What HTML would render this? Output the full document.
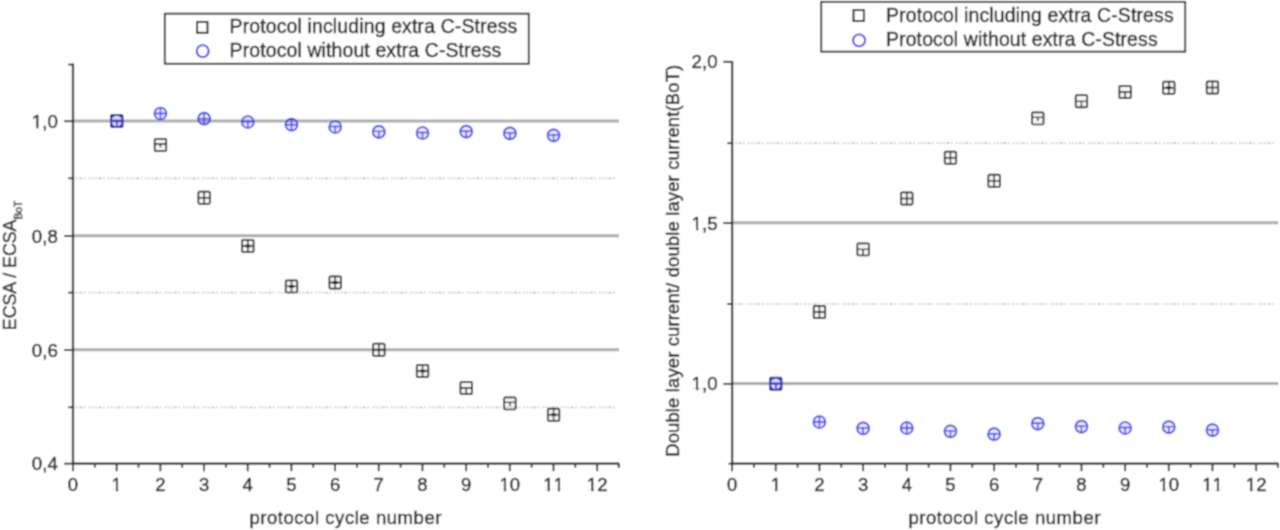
<!DOCTYPE html>
<html><head><meta charset="utf-8"><title>chart</title>
<style>
html,body{margin:0;padding:0;background:#fff;}
body{width:1280px;height:530px;overflow:hidden;font-family:"Liberation Sans", sans-serif;}
svg{display:block;font-family:"Liberation Sans", sans-serif;}
text{stroke:#303030;stroke-width:0.5px;}
</style></head><body>
<svg width="1280" height="530" viewBox="0 0 1280 530">
<defs><filter id="soft" x="0" y="0" width="1280" height="530" filterUnits="userSpaceOnUse"><feConvolveMatrix order="3" kernelMatrix="1 2 1 2 4 2 1 2 1" divisor="16" edgeMode="duplicate" preserveAlpha="false"/></filter></defs>
<rect width="1280" height="530" fill="#fff"/>
<g filter="url(#soft)">
<rect x="-5" y="-5" width="1290" height="540" fill="#fff"/>
<line x1="73.0" y1="178.3" x2="618.0" y2="178.3" stroke="#c4c4c4" stroke-width="1.7" stroke-dasharray="1.5 1.6 1.5 1.6 3.2 1.6 1.5 3.3 1.5 1.6"/>
<line x1="73.0" y1="292.6" x2="618.0" y2="292.6" stroke="#c4c4c4" stroke-width="1.7" stroke-dasharray="1.5 1.6 1.5 1.6 3.2 1.6 1.5 3.3 1.5 1.6"/>
<line x1="73.0" y1="407.3" x2="618.0" y2="407.3" stroke="#c4c4c4" stroke-width="1.7" stroke-dasharray="1.5 1.6 1.5 1.6 3.2 1.6 1.5 3.3 1.5 1.6"/>
<line x1="73.0" y1="120.9" x2="619.0" y2="120.9" stroke="#adadad" stroke-width="3.0"/>
<line x1="73.0" y1="235.7" x2="619.0" y2="235.7" stroke="#adadad" stroke-width="3.0"/>
<line x1="73.0" y1="349.7" x2="619.0" y2="349.7" stroke="#adadad" stroke-width="3.0"/>
<line x1="73.0" y1="63.60000000000001" x2="73.0" y2="464.5" stroke="#2e2e2e" stroke-width="2.25"/>
<line x1="72.2" y1="463.7" x2="619.0" y2="463.7" stroke="#2e2e2e" stroke-width="2.25"/>
<line x1="618.6" y1="462.9" x2="618.6" y2="467.7" stroke="#2e2e2e" stroke-width="1.7"/>
<line x1="73.00" y1="463.7" x2="73.00" y2="471.2" stroke="#2e2e2e" stroke-width="1.9"/>
<line x1="94.84" y1="463.7" x2="94.84" y2="467.7" stroke="#2e2e2e" stroke-width="1.8"/>
<text x="67.86" y="491.20" font-size="18.5" fill="#303030" style="font-kerning:none">0</text>
<line x1="116.68" y1="463.7" x2="116.68" y2="471.2" stroke="#2e2e2e" stroke-width="1.9"/>
<line x1="138.52" y1="463.7" x2="138.52" y2="467.7" stroke="#2e2e2e" stroke-width="1.8"/>
<text x="111.54" y="491.20" font-size="18.5" fill="#303030" style="font-kerning:none">1</text>
<rect x="111.74" y="489.12" width="4.14" height="3.78" fill="#fff"/>
<rect x="118.12" y="489.12" width="4.10" height="3.78" fill="#fff"/>
<line x1="160.36" y1="463.7" x2="160.36" y2="471.2" stroke="#2e2e2e" stroke-width="1.9"/>
<line x1="182.20" y1="463.7" x2="182.20" y2="467.7" stroke="#2e2e2e" stroke-width="1.8"/>
<text x="155.22" y="491.20" font-size="18.5" fill="#303030" style="font-kerning:none">2</text>
<line x1="204.04" y1="463.7" x2="204.04" y2="471.2" stroke="#2e2e2e" stroke-width="1.9"/>
<line x1="225.88" y1="463.7" x2="225.88" y2="467.7" stroke="#2e2e2e" stroke-width="1.8"/>
<text x="198.90" y="491.20" font-size="18.5" fill="#303030" style="font-kerning:none">3</text>
<line x1="247.72" y1="463.7" x2="247.72" y2="471.2" stroke="#2e2e2e" stroke-width="1.9"/>
<line x1="269.56" y1="463.7" x2="269.56" y2="467.7" stroke="#2e2e2e" stroke-width="1.8"/>
<text x="242.58" y="491.20" font-size="18.5" fill="#303030" style="font-kerning:none">4</text>
<line x1="291.40" y1="463.7" x2="291.40" y2="471.2" stroke="#2e2e2e" stroke-width="1.9"/>
<line x1="313.24" y1="463.7" x2="313.24" y2="467.7" stroke="#2e2e2e" stroke-width="1.8"/>
<text x="286.26" y="491.20" font-size="18.5" fill="#303030" style="font-kerning:none">5</text>
<line x1="335.08" y1="463.7" x2="335.08" y2="471.2" stroke="#2e2e2e" stroke-width="1.9"/>
<line x1="356.92" y1="463.7" x2="356.92" y2="467.7" stroke="#2e2e2e" stroke-width="1.8"/>
<text x="329.94" y="491.20" font-size="18.5" fill="#303030" style="font-kerning:none">6</text>
<line x1="378.76" y1="463.7" x2="378.76" y2="471.2" stroke="#2e2e2e" stroke-width="1.9"/>
<line x1="400.60" y1="463.7" x2="400.60" y2="467.7" stroke="#2e2e2e" stroke-width="1.8"/>
<text x="373.62" y="491.20" font-size="18.5" fill="#303030" style="font-kerning:none">7</text>
<line x1="422.44" y1="463.7" x2="422.44" y2="471.2" stroke="#2e2e2e" stroke-width="1.9"/>
<line x1="444.28" y1="463.7" x2="444.28" y2="467.7" stroke="#2e2e2e" stroke-width="1.8"/>
<text x="417.30" y="491.20" font-size="18.5" fill="#303030" style="font-kerning:none">8</text>
<line x1="466.12" y1="463.7" x2="466.12" y2="471.2" stroke="#2e2e2e" stroke-width="1.9"/>
<line x1="487.96" y1="463.7" x2="487.96" y2="467.7" stroke="#2e2e2e" stroke-width="1.8"/>
<text x="460.98" y="491.20" font-size="18.5" fill="#303030" style="font-kerning:none">9</text>
<line x1="509.80" y1="463.7" x2="509.80" y2="471.2" stroke="#2e2e2e" stroke-width="1.9"/>
<line x1="531.64" y1="463.7" x2="531.64" y2="467.7" stroke="#2e2e2e" stroke-width="1.8"/>
<text x="499.51" y="491.20" font-size="18.5" fill="#303030" style="font-kerning:none">10</text>
<rect x="499.72" y="489.12" width="4.14" height="3.78" fill="#fff"/>
<rect x="506.10" y="489.12" width="4.10" height="3.78" fill="#fff"/>
<line x1="553.48" y1="463.7" x2="553.48" y2="471.2" stroke="#2e2e2e" stroke-width="1.9"/>
<line x1="575.32" y1="463.7" x2="575.32" y2="467.7" stroke="#2e2e2e" stroke-width="1.8"/>
<text x="543.19" y="491.20" font-size="18.5" fill="#303030" style="font-kerning:none">11</text>
<rect x="543.40" y="489.12" width="4.14" height="3.78" fill="#fff"/>
<rect x="549.78" y="489.12" width="4.10" height="3.78" fill="#fff"/>
<rect x="553.69" y="489.12" width="4.14" height="3.78" fill="#fff"/>
<rect x="560.07" y="489.12" width="4.10" height="3.78" fill="#fff"/>
<line x1="597.16" y1="463.7" x2="597.16" y2="471.2" stroke="#2e2e2e" stroke-width="1.9"/>
<line x1="619.00" y1="463.7" x2="619.00" y2="467.7" stroke="#2e2e2e" stroke-width="1.8"/>
<text x="586.87" y="491.20" font-size="18.5" fill="#303030" style="font-kerning:none">12</text>
<rect x="587.08" y="489.12" width="4.14" height="3.78" fill="#fff"/>
<rect x="593.46" y="489.12" width="4.10" height="3.78" fill="#fff"/>
<line x1="64.2" y1="121.2" x2="73.0" y2="121.2" stroke="#2e2e2e" stroke-width="1.9"/>
<line x1="64.2" y1="236.0" x2="73.0" y2="236.0" stroke="#2e2e2e" stroke-width="1.9"/>
<line x1="64.2" y1="350.0" x2="73.0" y2="350.0" stroke="#2e2e2e" stroke-width="1.9"/>
<line x1="64.2" y1="463.7" x2="73.0" y2="463.7" stroke="#2e2e2e" stroke-width="1.9"/>
<line x1="68.2" y1="64.6" x2="73.0" y2="64.6" stroke="#2e2e2e" stroke-width="1.8"/>
<line x1="68.2" y1="178.3" x2="73.0" y2="178.3" stroke="#2e2e2e" stroke-width="1.8"/>
<line x1="68.2" y1="292.6" x2="73.0" y2="292.6" stroke="#2e2e2e" stroke-width="1.8"/>
<line x1="68.2" y1="407.3" x2="73.0" y2="407.3" stroke="#2e2e2e" stroke-width="1.8"/>
<text x="31.80" y="127.70" font-size="18.7" fill="#303030" style="font-kerning:none">1,0</text>
<rect x="32.03" y="125.60" width="4.18" height="3.80" fill="#fff"/>
<rect x="38.46" y="125.60" width="4.13" height="3.80" fill="#fff"/>
<text x="31.80" y="242.50" font-size="18.7" fill="#303030" style="font-kerning:none">0,8</text>
<text x="31.80" y="356.50" font-size="18.7" fill="#303030" style="font-kerning:none">0,6</text>
<text x="31.80" y="470.20" font-size="18.7" fill="#303030" style="font-kerning:none">0,4</text>
<rect x="110.98" y="114.90" width="11.6" height="12.2" rx="1.2" fill="#000" fill-opacity="0.04" stroke="#1c1c1c" stroke-width="1.7"/>
<path d="M110.98 121.00H122.58M116.78 121.00V126.80" stroke="#1c1c1c" stroke-width="1.35" fill="none"/>
<rect x="154.66" y="138.90" width="11.6" height="12.2" rx="1.2" fill="#000" fill-opacity="0.04" stroke="#1c1c1c" stroke-width="1.7"/>
<path d="M154.66 144.00H166.26M160.46 144.00V147.50" stroke="#1c1c1c" stroke-width="1.35" fill="none"/>
<rect x="198.34" y="191.60" width="11.6" height="12.2" rx="1.2" fill="#000" fill-opacity="0.04" stroke="#1c1c1c" stroke-width="1.7"/>
<path d="M198.34 197.70H209.94M204.14 191.90V203.50" stroke="#1c1c1c" stroke-width="1.35" fill="none"/>
<rect x="242.02" y="239.90" width="11.6" height="12.2" rx="1.2" fill="#000" fill-opacity="0.04" stroke="#1c1c1c" stroke-width="1.7"/>
<path d="M242.02 246.00H253.62M247.82 240.20V251.80" stroke="#1c1c1c" stroke-width="1.35" fill="none"/>
<path d="M245.22 246.00H250.42" stroke="#1c1c1c" stroke-width="2.6" fill="none"/>
<rect x="285.70" y="280.30" width="11.6" height="12.2" rx="1.2" fill="#000" fill-opacity="0.04" stroke="#1c1c1c" stroke-width="1.7"/>
<path d="M285.70 286.40H297.30M291.50 280.60V292.20" stroke="#1c1c1c" stroke-width="1.35" fill="none"/>
<path d="M288.90 286.40H294.10" stroke="#1c1c1c" stroke-width="2.6" fill="none"/>
<rect x="329.38" y="276.40" width="11.6" height="12.2" rx="1.2" fill="#000" fill-opacity="0.04" stroke="#1c1c1c" stroke-width="1.7"/>
<path d="M329.38 282.50H340.98M335.18 276.70V288.30" stroke="#1c1c1c" stroke-width="1.35" fill="none"/>
<path d="M332.58 282.50H337.78" stroke="#1c1c1c" stroke-width="2.6" fill="none"/>
<rect x="373.06" y="343.70" width="11.6" height="12.2" rx="1.2" fill="#000" fill-opacity="0.04" stroke="#1c1c1c" stroke-width="1.7"/>
<path d="M373.06 349.80H384.66M378.86 344.00V355.60" stroke="#1c1c1c" stroke-width="1.35" fill="none"/>
<rect x="416.74" y="364.90" width="11.6" height="12.2" rx="1.2" fill="#000" fill-opacity="0.04" stroke="#1c1c1c" stroke-width="1.7"/>
<path d="M416.74 371.00H428.34M422.54 365.20V376.80" stroke="#1c1c1c" stroke-width="1.35" fill="none"/>
<path d="M419.94 371.00H425.14" stroke="#1c1c1c" stroke-width="2.6" fill="none"/>
<rect x="460.42" y="381.90" width="11.6" height="12.2" rx="1.2" fill="#000" fill-opacity="0.04" stroke="#1c1c1c" stroke-width="1.7"/>
<path d="M460.42 388.00H472.02M466.22 388.00V393.80" stroke="#1c1c1c" stroke-width="1.35" fill="none"/>
<rect x="504.10" y="397.30" width="11.6" height="12.2" rx="1.2" fill="#000" fill-opacity="0.04" stroke="#1c1c1c" stroke-width="1.7"/>
<path d="M504.10 402.40H515.70M509.90 402.40V405.90" stroke="#1c1c1c" stroke-width="1.35" fill="none"/>
<rect x="547.78" y="408.70" width="11.6" height="12.2" rx="1.2" fill="#000" fill-opacity="0.04" stroke="#1c1c1c" stroke-width="1.7"/>
<path d="M547.78 414.80H559.38M553.58 409.00V420.60" stroke="#1c1c1c" stroke-width="1.35" fill="none"/>
<path d="M550.98 414.80H556.18" stroke="#1c1c1c" stroke-width="2.6" fill="none"/>
<circle cx="116.78" cy="121.00" r="6.0" fill="#4a4aff" fill-opacity="0.13" stroke="#3030f2" stroke-width="1.7"/>
<path d="M111.78 120.50H121.78M116.78 120.50V127.00" stroke="#3030f2" stroke-width="1.35" fill="none"/>
<circle cx="160.46" cy="113.50" r="6.0" fill="#4a4aff" fill-opacity="0.13" stroke="#3030f2" stroke-width="1.7"/>
<path d="M154.46 113.50H166.46M160.46 107.50V119.50" stroke="#3030f2" stroke-width="1.35" fill="none"/>
<circle cx="204.14" cy="118.60" r="6.0" fill="#4a4aff" fill-opacity="0.13" stroke="#3030f2" stroke-width="1.7"/>
<path d="M198.14 118.60H210.14M204.14 112.60V124.60" stroke="#3030f2" stroke-width="1.35" fill="none"/>
<circle cx="247.82" cy="122.00" r="6.0" fill="#4a4aff" fill-opacity="0.13" stroke="#3030f2" stroke-width="1.7"/>
<path d="M242.82 121.50H252.82M247.82 121.50V128.00" stroke="#3030f2" stroke-width="1.35" fill="none"/>
<circle cx="291.50" cy="124.70" r="6.0" fill="#4a4aff" fill-opacity="0.13" stroke="#3030f2" stroke-width="1.7"/>
<path d="M285.50 124.70H297.50M291.50 118.70V130.70" stroke="#3030f2" stroke-width="1.35" fill="none"/>
<circle cx="335.18" cy="127.00" r="6.0" fill="#4a4aff" fill-opacity="0.13" stroke="#3030f2" stroke-width="1.7"/>
<path d="M330.18 126.50H340.18M335.18 126.50V133.00" stroke="#3030f2" stroke-width="1.35" fill="none"/>
<circle cx="378.86" cy="131.90" r="6.0" fill="#4a4aff" fill-opacity="0.13" stroke="#3030f2" stroke-width="1.7"/>
<path d="M373.86 131.40H383.86M378.86 131.40V137.90" stroke="#3030f2" stroke-width="1.35" fill="none"/>
<circle cx="422.54" cy="133.00" r="6.0" fill="#4a4aff" fill-opacity="0.13" stroke="#3030f2" stroke-width="1.7"/>
<path d="M417.54 132.50H427.54M422.54 132.50V139.00" stroke="#3030f2" stroke-width="1.35" fill="none"/>
<circle cx="466.22" cy="131.70" r="6.0" fill="#4a4aff" fill-opacity="0.13" stroke="#3030f2" stroke-width="1.7"/>
<path d="M461.22 131.20H471.22M466.22 131.20V137.70" stroke="#3030f2" stroke-width="1.35" fill="none"/>
<circle cx="509.90" cy="133.40" r="6.0" fill="#4a4aff" fill-opacity="0.13" stroke="#3030f2" stroke-width="1.7"/>
<path d="M504.90 132.90H514.90M509.90 132.90V139.40" stroke="#3030f2" stroke-width="1.35" fill="none"/>
<circle cx="553.58" cy="135.30" r="6.0" fill="#4a4aff" fill-opacity="0.13" stroke="#3030f2" stroke-width="1.7"/>
<path d="M548.58 134.80H558.58M553.58 134.80V141.30" stroke="#3030f2" stroke-width="1.35" fill="none"/>
<rect x="164.8" y="13.7" width="364.0" height="50.1" fill="#fff" stroke="#2e2e2e" stroke-width="1.9"/>
<rect x="197.1" y="21.9" width="10.4" height="10.9" fill="none" stroke="#1c1c1c" stroke-width="1.9"/>
<circle cx="202.7" cy="51.1" r="6" fill="none" stroke="#3030f2" stroke-width="1.9"/>
<text x="229.6" y="32.5" font-size="19.4" textLength="287.6" lengthAdjust="spacing" fill="#303030">Protocol including extra C-Stress</text>
<text x="229.6" y="56.8" font-size="19.4" textLength="271.6" lengthAdjust="spacing" fill="#303030">Protocol without extra C-Stress</text>
<text x="249.4" y="524.2" font-size="18.5" textLength="192" lengthAdjust="spacing" fill="#303030">protocol cycle number</text>
<text transform="translate(15.5 330.2) rotate(-90)" font-size="17.8" fill="#303030">ECSA / ECSA<tspan font-size="10.2" dy="6.8">BoT</tspan></text>
<line x1="732.1" y1="304.0" x2="1277.2" y2="304.0" stroke="#c4c4c4" stroke-width="1.7" stroke-dasharray="1.5 1.6 1.5 1.6 3.2 1.6 1.5 3.3 1.5 1.6"/>
<line x1="732.1" y1="143.2" x2="1277.2" y2="143.2" stroke="#c4c4c4" stroke-width="1.7" stroke-dasharray="1.5 1.6 1.5 1.6 3.2 1.6 1.5 3.3 1.5 1.6"/>
<line x1="732.1" y1="383.59999999999997" x2="1278.2" y2="383.59999999999997" stroke="#adadad" stroke-width="3.0"/>
<line x1="732.1" y1="222.79999999999998" x2="1278.2" y2="222.79999999999998" stroke="#adadad" stroke-width="3.0"/>
<line x1="732.1" y1="61.0" x2="732.1" y2="464.5" stroke="#2e2e2e" stroke-width="2.25"/>
<line x1="731.3000000000001" y1="463.7" x2="1278.2" y2="463.7" stroke="#2e2e2e" stroke-width="2.25"/>
<line x1="1277.8" y1="462.9" x2="1277.8" y2="467.7" stroke="#2e2e2e" stroke-width="1.7"/>
<line x1="732.10" y1="463.7" x2="732.10" y2="471.2" stroke="#2e2e2e" stroke-width="1.9"/>
<line x1="753.94" y1="463.7" x2="753.94" y2="467.7" stroke="#2e2e2e" stroke-width="1.8"/>
<text x="726.96" y="491.20" font-size="18.5" fill="#303030" style="font-kerning:none">0</text>
<line x1="775.77" y1="463.7" x2="775.77" y2="471.2" stroke="#2e2e2e" stroke-width="1.9"/>
<line x1="797.61" y1="463.7" x2="797.61" y2="467.7" stroke="#2e2e2e" stroke-width="1.8"/>
<text x="770.63" y="491.20" font-size="18.5" fill="#303030" style="font-kerning:none">1</text>
<rect x="770.83" y="489.12" width="4.14" height="3.78" fill="#fff"/>
<rect x="777.21" y="489.12" width="4.10" height="3.78" fill="#fff"/>
<line x1="819.44" y1="463.7" x2="819.44" y2="471.2" stroke="#2e2e2e" stroke-width="1.9"/>
<line x1="841.28" y1="463.7" x2="841.28" y2="467.7" stroke="#2e2e2e" stroke-width="1.8"/>
<text x="814.30" y="491.20" font-size="18.5" fill="#303030" style="font-kerning:none">2</text>
<line x1="863.11" y1="463.7" x2="863.11" y2="471.2" stroke="#2e2e2e" stroke-width="1.9"/>
<line x1="884.95" y1="463.7" x2="884.95" y2="467.7" stroke="#2e2e2e" stroke-width="1.8"/>
<text x="857.97" y="491.20" font-size="18.5" fill="#303030" style="font-kerning:none">3</text>
<line x1="906.78" y1="463.7" x2="906.78" y2="471.2" stroke="#2e2e2e" stroke-width="1.9"/>
<line x1="928.62" y1="463.7" x2="928.62" y2="467.7" stroke="#2e2e2e" stroke-width="1.8"/>
<text x="901.64" y="491.20" font-size="18.5" fill="#303030" style="font-kerning:none">4</text>
<line x1="950.45" y1="463.7" x2="950.45" y2="471.2" stroke="#2e2e2e" stroke-width="1.9"/>
<line x1="972.29" y1="463.7" x2="972.29" y2="467.7" stroke="#2e2e2e" stroke-width="1.8"/>
<text x="945.31" y="491.20" font-size="18.5" fill="#303030" style="font-kerning:none">5</text>
<line x1="994.12" y1="463.7" x2="994.12" y2="471.2" stroke="#2e2e2e" stroke-width="1.9"/>
<line x1="1015.96" y1="463.7" x2="1015.96" y2="467.7" stroke="#2e2e2e" stroke-width="1.8"/>
<text x="988.98" y="491.20" font-size="18.5" fill="#303030" style="font-kerning:none">6</text>
<line x1="1037.79" y1="463.7" x2="1037.79" y2="471.2" stroke="#2e2e2e" stroke-width="1.9"/>
<line x1="1059.62" y1="463.7" x2="1059.62" y2="467.7" stroke="#2e2e2e" stroke-width="1.8"/>
<text x="1032.65" y="491.20" font-size="18.5" fill="#303030" style="font-kerning:none">7</text>
<line x1="1081.46" y1="463.7" x2="1081.46" y2="471.2" stroke="#2e2e2e" stroke-width="1.9"/>
<line x1="1103.30" y1="463.7" x2="1103.30" y2="467.7" stroke="#2e2e2e" stroke-width="1.8"/>
<text x="1076.32" y="491.20" font-size="18.5" fill="#303030" style="font-kerning:none">8</text>
<line x1="1125.13" y1="463.7" x2="1125.13" y2="471.2" stroke="#2e2e2e" stroke-width="1.9"/>
<line x1="1146.97" y1="463.7" x2="1146.97" y2="467.7" stroke="#2e2e2e" stroke-width="1.8"/>
<text x="1119.99" y="491.20" font-size="18.5" fill="#303030" style="font-kerning:none">9</text>
<line x1="1168.80" y1="463.7" x2="1168.80" y2="471.2" stroke="#2e2e2e" stroke-width="1.9"/>
<line x1="1190.64" y1="463.7" x2="1190.64" y2="467.7" stroke="#2e2e2e" stroke-width="1.8"/>
<text x="1158.51" y="491.20" font-size="18.5" fill="#303030" style="font-kerning:none">10</text>
<rect x="1158.72" y="489.12" width="4.14" height="3.78" fill="#fff"/>
<rect x="1165.10" y="489.12" width="4.10" height="3.78" fill="#fff"/>
<line x1="1212.47" y1="463.7" x2="1212.47" y2="471.2" stroke="#2e2e2e" stroke-width="1.9"/>
<line x1="1234.31" y1="463.7" x2="1234.31" y2="467.7" stroke="#2e2e2e" stroke-width="1.8"/>
<text x="1202.18" y="491.20" font-size="18.5" fill="#303030" style="font-kerning:none">11</text>
<rect x="1202.39" y="489.12" width="4.14" height="3.78" fill="#fff"/>
<rect x="1208.77" y="489.12" width="4.10" height="3.78" fill="#fff"/>
<rect x="1212.68" y="489.12" width="4.14" height="3.78" fill="#fff"/>
<rect x="1219.06" y="489.12" width="4.10" height="3.78" fill="#fff"/>
<line x1="1256.14" y1="463.7" x2="1256.14" y2="471.2" stroke="#2e2e2e" stroke-width="1.9"/>
<line x1="1277.97" y1="463.7" x2="1277.97" y2="467.7" stroke="#2e2e2e" stroke-width="1.8"/>
<text x="1245.85" y="491.20" font-size="18.5" fill="#303030" style="font-kerning:none">12</text>
<rect x="1246.06" y="489.12" width="4.14" height="3.78" fill="#fff"/>
<rect x="1252.44" y="489.12" width="4.10" height="3.78" fill="#fff"/>
<line x1="723.3000000000001" y1="383.9" x2="732.1" y2="383.9" stroke="#2e2e2e" stroke-width="1.9"/>
<line x1="723.3000000000001" y1="223.1" x2="732.1" y2="223.1" stroke="#2e2e2e" stroke-width="1.9"/>
<line x1="723.3000000000001" y1="61.8" x2="732.1" y2="61.8" stroke="#2e2e2e" stroke-width="1.9"/>
<line x1="728.5" y1="463.7" x2="732.1" y2="463.7" stroke="#2e2e2e" stroke-width="1.8"/>
<line x1="727.3000000000001" y1="304.0" x2="732.1" y2="304.0" stroke="#2e2e2e" stroke-width="1.8"/>
<line x1="727.3000000000001" y1="143.2" x2="732.1" y2="143.2" stroke="#2e2e2e" stroke-width="1.8"/>
<text x="691.60" y="390.40" font-size="18.7" fill="#303030" style="font-kerning:none">1,0</text>
<rect x="691.83" y="388.30" width="4.18" height="3.80" fill="#fff"/>
<rect x="698.26" y="388.30" width="4.13" height="3.80" fill="#fff"/>
<text x="691.60" y="229.60" font-size="18.7" fill="#303030" style="font-kerning:none">1,5</text>
<rect x="691.83" y="227.50" width="4.18" height="3.80" fill="#fff"/>
<rect x="698.26" y="227.50" width="4.13" height="3.80" fill="#fff"/>
<text x="691.60" y="68.30" font-size="18.7" fill="#303030" style="font-kerning:none">2,0</text>
<rect x="769.97" y="377.70" width="11.6" height="12.2" rx="1.2" fill="#000" fill-opacity="0.04" stroke="#1c1c1c" stroke-width="1.7"/>
<path d="M769.97 383.80H781.57M775.77 383.80V389.60" stroke="#1c1c1c" stroke-width="1.35" fill="none"/>
<rect x="813.64" y="305.90" width="11.6" height="12.2" rx="1.2" fill="#000" fill-opacity="0.04" stroke="#1c1c1c" stroke-width="1.7"/>
<path d="M813.64 312.00H825.24M819.44 306.20V317.80" stroke="#1c1c1c" stroke-width="1.35" fill="none"/>
<rect x="857.31" y="243.30" width="11.6" height="12.2" rx="1.2" fill="#000" fill-opacity="0.04" stroke="#1c1c1c" stroke-width="1.7"/>
<path d="M857.31 249.40H868.91M863.11 249.40V255.20" stroke="#1c1c1c" stroke-width="1.35" fill="none"/>
<rect x="900.98" y="192.40" width="11.6" height="12.2" rx="1.2" fill="#000" fill-opacity="0.04" stroke="#1c1c1c" stroke-width="1.7"/>
<path d="M900.98 198.50H912.58M906.78 192.70V204.30" stroke="#1c1c1c" stroke-width="1.35" fill="none"/>
<rect x="944.65" y="151.60" width="11.6" height="12.2" rx="1.2" fill="#000" fill-opacity="0.04" stroke="#1c1c1c" stroke-width="1.7"/>
<path d="M944.65 157.70H956.25M950.45 151.90V163.50" stroke="#1c1c1c" stroke-width="1.35" fill="none"/>
<rect x="988.32" y="174.70" width="11.6" height="12.2" rx="1.2" fill="#000" fill-opacity="0.04" stroke="#1c1c1c" stroke-width="1.7"/>
<path d="M988.32 180.80H999.92M994.12 175.00V186.60" stroke="#1c1c1c" stroke-width="1.35" fill="none"/>
<rect x="1031.99" y="112.30" width="11.6" height="12.2" rx="1.2" fill="#000" fill-opacity="0.04" stroke="#1c1c1c" stroke-width="1.7"/>
<path d="M1031.99 117.40H1043.59M1037.79 117.40V120.90" stroke="#1c1c1c" stroke-width="1.35" fill="none"/>
<rect x="1075.66" y="95.20" width="11.6" height="12.2" rx="1.2" fill="#000" fill-opacity="0.04" stroke="#1c1c1c" stroke-width="1.7"/>
<path d="M1075.66 101.30H1087.26M1081.46 101.30V107.10" stroke="#1c1c1c" stroke-width="1.35" fill="none"/>
<rect x="1119.33" y="85.90" width="11.6" height="12.2" rx="1.2" fill="#000" fill-opacity="0.04" stroke="#1c1c1c" stroke-width="1.7"/>
<path d="M1119.33 92.00H1130.93M1125.13 92.00V97.80" stroke="#1c1c1c" stroke-width="1.35" fill="none"/>
<rect x="1163.00" y="81.70" width="11.6" height="12.2" rx="1.2" fill="#000" fill-opacity="0.04" stroke="#1c1c1c" stroke-width="1.7"/>
<path d="M1163.00 87.80H1174.60M1168.80 82.00V93.60" stroke="#1c1c1c" stroke-width="1.35" fill="none"/>
<path d="M1166.20 87.80H1171.40" stroke="#1c1c1c" stroke-width="2.6" fill="none"/>
<rect x="1206.67" y="81.40" width="11.6" height="12.2" rx="1.2" fill="#000" fill-opacity="0.04" stroke="#1c1c1c" stroke-width="1.7"/>
<path d="M1206.67 87.50H1218.27M1212.47 81.70V93.30" stroke="#1c1c1c" stroke-width="1.35" fill="none"/>
<circle cx="775.77" cy="383.80" r="6.0" fill="#4a4aff" fill-opacity="0.13" stroke="#3030f2" stroke-width="1.7"/>
<path d="M770.77 383.30H780.77M775.77 383.30V389.80" stroke="#3030f2" stroke-width="1.35" fill="none"/>
<circle cx="819.44" cy="422.00" r="6.0" fill="#4a4aff" fill-opacity="0.13" stroke="#3030f2" stroke-width="1.7"/>
<path d="M813.44 422.00H825.44M819.44 416.00V428.00" stroke="#3030f2" stroke-width="1.35" fill="none"/>
<circle cx="863.11" cy="428.30" r="6.0" fill="#4a4aff" fill-opacity="0.13" stroke="#3030f2" stroke-width="1.7"/>
<path d="M858.11 427.80H868.11M863.11 427.80V434.30" stroke="#3030f2" stroke-width="1.35" fill="none"/>
<circle cx="906.78" cy="428.00" r="6.0" fill="#4a4aff" fill-opacity="0.13" stroke="#3030f2" stroke-width="1.7"/>
<path d="M900.78 428.00H912.78M906.78 422.00V434.00" stroke="#3030f2" stroke-width="1.35" fill="none"/>
<circle cx="950.45" cy="431.30" r="6.0" fill="#4a4aff" fill-opacity="0.13" stroke="#3030f2" stroke-width="1.7"/>
<path d="M945.45 430.80H955.45M950.45 430.80V437.30" stroke="#3030f2" stroke-width="1.35" fill="none"/>
<circle cx="994.12" cy="434.20" r="6.0" fill="#4a4aff" fill-opacity="0.13" stroke="#3030f2" stroke-width="1.7"/>
<path d="M989.12 433.70H999.12M994.12 433.70V440.20" stroke="#3030f2" stroke-width="1.35" fill="none"/>
<circle cx="1037.79" cy="423.70" r="6.0" fill="#4a4aff" fill-opacity="0.13" stroke="#3030f2" stroke-width="1.7"/>
<path d="M1032.79 423.20H1042.79M1037.79 423.20V429.70" stroke="#3030f2" stroke-width="1.35" fill="none"/>
<circle cx="1081.46" cy="426.60" r="6.0" fill="#4a4aff" fill-opacity="0.13" stroke="#3030f2" stroke-width="1.7"/>
<path d="M1076.46 426.10H1086.46M1081.46 426.10V432.60" stroke="#3030f2" stroke-width="1.35" fill="none"/>
<circle cx="1125.13" cy="428.00" r="6.0" fill="#4a4aff" fill-opacity="0.13" stroke="#3030f2" stroke-width="1.7"/>
<path d="M1120.13 427.50H1130.13M1125.13 427.50V434.00" stroke="#3030f2" stroke-width="1.35" fill="none"/>
<circle cx="1168.80" cy="427.10" r="6.0" fill="#4a4aff" fill-opacity="0.13" stroke="#3030f2" stroke-width="1.7"/>
<path d="M1163.80 426.60H1173.80M1168.80 426.60V433.10" stroke="#3030f2" stroke-width="1.35" fill="none"/>
<circle cx="1212.47" cy="430.20" r="6.0" fill="#4a4aff" fill-opacity="0.13" stroke="#3030f2" stroke-width="1.7"/>
<path d="M1207.47 429.70H1217.47M1212.47 429.70V436.20" stroke="#3030f2" stroke-width="1.35" fill="none"/>
<rect x="821.2" y="1.9" width="364.0" height="49.8" fill="#fff" stroke="#2e2e2e" stroke-width="1.9"/>
<rect x="853.5" y="10.1" width="10.4" height="10.9" fill="none" stroke="#1c1c1c" stroke-width="1.9"/>
<circle cx="859.1" cy="40.4" r="6" fill="none" stroke="#3030f2" stroke-width="1.9"/>
<text x="886.0" y="21.6" font-size="19.4" textLength="287.6" lengthAdjust="spacing" fill="#303030">Protocol including extra C-Stress</text>
<text x="886.0" y="45.6" font-size="19.4" textLength="271.6" lengthAdjust="spacing" fill="#303030">Protocol without extra C-Stress</text>
<text x="908.4" y="524.2" font-size="18.5" textLength="192" lengthAdjust="spacing" fill="#303030">protocol cycle number</text>
<text transform="translate(679.2 456.8) rotate(-90)" font-size="18.4" textLength="392" lengthAdjust="spacing" fill="#303030">Double layer current/ double layer current(BoT)</text>
</g>
</svg>
</body></html>
